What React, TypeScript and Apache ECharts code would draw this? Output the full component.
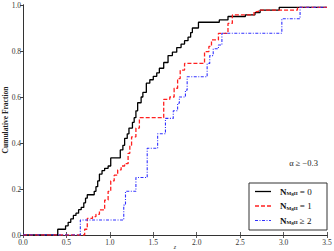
import React, { useEffect, useRef } from "react";
import * as echarts from "echarts";

const xTicks = [0, 0.5, 1.0, 1.5, 2.0, 2.5, 3.0, 3.5];
const yTicks = [0, 0.2, 0.4, 0.6, 0.8, 1.0];

const seriesNames = ["N0", "N1", "N2"];
const legendLabels = ["{n|N}{s|MgII}{t| = 0}", "{n|N}{s|MgII}{t| = 1}", "{n|N}{s|MgII}{t| ≥ 2}"];
const seriesColors = ["#000000", "#ff2020", "#3030ff"];

const blackX = [0, 0.40, 0.49, 0.52, 0.55, 0.58, 0.61, 0.64, 0.67, 0.70, 0.72, 0.74, 0.82, 0.84, 0.86, 0.88, 0.91, 0.94, 0.98, 1.01, 1.12, 1.15, 1.17, 1.20, 1.22, 1.26, 1.28, 1.30, 1.32, 1.36, 1.38, 1.42, 1.46, 1.50, 1.54, 1.57, 1.62, 1.67, 1.72, 1.77, 1.82, 1.86, 1.90, 1.93, 1.95, 2.02, 2.26, 2.36, 2.56, 2.67, 2.73, 2.95, 3.5];
const blackY = [0, 0.025, 0.04, 0.055, 0.07, 0.085, 0.095, 0.11, 0.12, 0.14, 0.16, 0.175, 0.19, 0.21, 0.235, 0.265, 0.28, 0.29, 0.30, 0.335, 0.37, 0.39, 0.42, 0.44, 0.465, 0.49, 0.51, 0.54, 0.575, 0.60, 0.62, 0.66, 0.675, 0.69, 0.705, 0.725, 0.75, 0.78, 0.795, 0.815, 0.83, 0.845, 0.86, 0.88, 0.90, 0.925, 0.935, 0.95, 0.957, 0.967, 0.978, 0.99, 0.99];

const redX = [0, 0.71, 0.74, 0.80, 0.84, 0.88, 0.94, 0.98, 1.01, 1.05, 1.09, 1.13, 1.17, 1.21, 1.23, 1.25, 1.30, 1.34, 1.62, 1.69, 1.74, 1.78, 1.81, 1.86, 2.09, 2.14, 2.17, 2.25, 2.36, 2.41, 2.66, 2.71, 3.16, 3.5];
const redY = [0, 0.025, 0.072, 0.08, 0.09, 0.109, 0.152, 0.19, 0.235, 0.26, 0.283, 0.30, 0.31, 0.355, 0.39, 0.427, 0.465, 0.51, 0.59, 0.60, 0.638, 0.68, 0.717, 0.746, 0.797, 0.82, 0.848, 0.877, 0.92, 0.957, 0.971, 0.978, 0.99, 0.99];

const blueX = [0, 0.66, 1.16, 1.18, 1.30, 1.43, 1.55, 1.64, 1.73, 1.78, 1.80, 1.87, 1.89, 2.12, 2.15, 2.19, 2.25, 2.29, 2.98, 3.19, 3.5];
const blueY = [0, 0.065, 0.13, 0.19, 0.25, 0.377, 0.44, 0.507, 0.54, 0.573, 0.60, 0.63, 0.688, 0.746, 0.78, 0.81, 0.826, 0.877, 0.94, 0.99, 0.99];

const zip = (xs: number[], ys: number[]) => xs.map((x, i) => [x, ys[i]]);

export default function App() {
  const ref = useRef<HTMLDivElement>(null);
  useEffect(() => {
    if (!ref.current) return;
    const chart = echarts.init(ref.current, null, { renderer: "svg" });
    const font = "Liberation Serif";
    const axisLine = () => ({ show: true, lineStyle: { color: "#333", width: 1 } });
    const tickIn = () => ({ show: true, inside: true, length: 3, lineStyle: { color: "#333", width: 0.8 } });
    const fmt = (v: number) => v.toFixed(1);
    const dashes: any[] = [null, [4, 2], [3, 1.5, 1, 1.5]];
    const widths = [1.3, 1.3, 1.1];

    const lgLeft = 249, lgTop = 183, lgW = 78, lgH = 47;
    const rowYs = [191.5, 206, 220.5];
    const legendEls: any[] = [
      {
        type: "rect", shape: { x: lgLeft, y: lgTop, width: lgW, height: lgH },
        style: { fill: "#fff", stroke: "#333", lineWidth: 1 }, z: 100,
      },
    ];
    rowYs.forEach((y, i) => {
      legendEls.push({
        type: "line", shape: { x1: 255, y1: y, x2: 271, y2: y },
        style: { stroke: seriesColors[i], lineWidth: widths[i], lineDash: dashes[i] || null }, z: 101,
      });
      legendEls.push({
        type: "text", x: 280, y: y, z: 101,
        style: {
          text: legendLabels[i], verticalAlign: "middle", fontFamily: font, fill: "#111",
          rich: {
            n: { fontSize: 9, fontWeight: "bold", fontFamily: font, fill: "#111" },
            s: { fontSize: 5, fontWeight: "bold", fontFamily: font, fill: "#111", verticalAlign: "bottom", padding: [4, 0, 0, 0] },
            t: { fontSize: 9, fontFamily: font, fill: "#111" },
          },
        },
      });
    });

    chart.setOption({
      animation: false,
      backgroundColor: "#fff",
      textStyle: { fontFamily: font },
      grid: { left: 23, right: 7, top: 5, bottom: 16, containLabel: false, outerBoundsMode: "none" },
      xAxis: [
        {
          type: "value", min: 0, max: 3.5, interval: 0.5,
          axisLine: axisLine(), axisTick: tickIn(), splitLine: { show: false },
          axisLabel: {
            formatter: fmt, fontSize: 7.5, color: "#333", margin: 3, fontFamily: font,
            showMinLabel: true, showMaxLabel: true, hideOverlap: false,
          },
        },
        {
          type: "value", min: 0, max: 3.5, interval: 0.5, position: "top",
          axisLine: axisLine(), axisTick: tickIn(), splitLine: { show: false }, axisLabel: { show: false },
        },
      ],
      yAxis: [
        {
          type: "value", min: 0, max: 1, interval: 0.2, position: "left",
          axisLine: axisLine(),
          axisTick: { show: true, inside: false, length: 2, lineStyle: { color: "#333", width: 0.8 } },
          splitLine: { show: false },
          axisLabel: {
            formatter: fmt, fontSize: 7.5, color: "#333", margin: 2, fontFamily: font,
            showMinLabel: true, showMaxLabel: true, hideOverlap: false,
          },
        },
        {
          type: "value", min: 0, max: 1, interval: 0.2, position: "right",
          axisLine: axisLine(), axisTick: tickIn(), splitLine: { show: false }, axisLabel: { show: false },
        },
      ],
      graphic: [
        {
          type: "text", x: 5, y: 120, rotation: Math.PI / 2,
          style: { text: "Cumulative Fraction", fontSize: 7.5, fontWeight: "bold", fontFamily: font, fill: "#222", align: "center", verticalAlign: "middle" },
        },
        {
          type: "text", x: 175, y: 247,
          style: { text: "z", fontSize: 6, fontStyle: "italic", fontFamily: font, fill: "#333", align: "center", verticalAlign: "middle" },
        },
        {
          type: "text", x: 318, y: 163,
          style: { text: "α ≥ −0.3", fontSize: 8.5, fontFamily: font, fill: "#222", align: "right", verticalAlign: "middle" },
        },
        ...legendEls,
      ],
      series: [
        {
          name: seriesNames[0], type: "line", step: "end", data: zip(blackX, blackY), symbol: "none",
          lineStyle: { color: seriesColors[0], width: widths[0] },
        },
        {
          name: seriesNames[1], type: "line", step: "end", data: zip(redX, redY), symbol: "none",
          lineStyle: { color: seriesColors[1], width: widths[1], type: dashes[1] },
        },
        {
          name: seriesNames[2], type: "line", step: "end", data: zip(blueX, blueY), symbol: "none",
          lineStyle: { color: seriesColors[2], width: widths[2], type: dashes[2] },
        },
      ],
    });
    return () => chart.dispose();
  }, []);
  return <div ref={ref} style={{ position: "fixed", left: 0, top: 0, width: 334, height: 251 }} />;
}
